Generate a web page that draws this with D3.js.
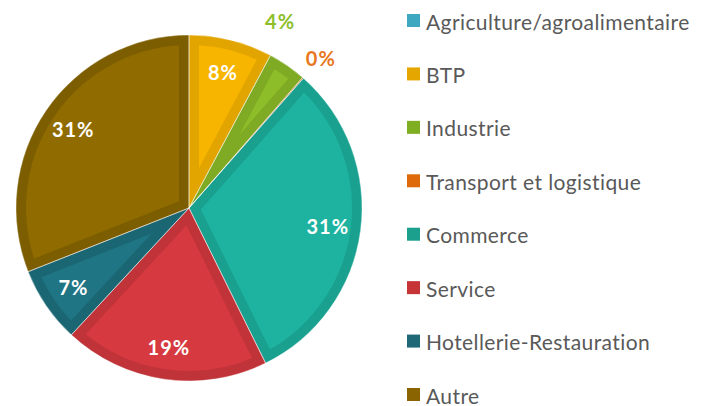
<!DOCTYPE html>
<html>
<head>
<meta charset="utf-8">
<script src="https://cdn.jsdelivr.net/npm/d3@7"></script>
<style>
  body { margin: 0; background: #fff; }
  svg { display: block; }
</style>
</head>
<body>
<svg id="chart" width="712" height="406"></svg>
<script>
// data
var categories = ["Agriculture/agroalimentaire", "BTP", "Industrie", "Transport et logistique",
                  "Commerce", "Service", "Hotellerie-Restauration", "Autre"];
var shares = [0, 7.8, 3.6, 0.1, 31.2, 19.2, 7.1, 31.0];
var shareLabels = ["0%", "8%", "4%", "0%", "31%", "19%", "7%", "31%"];
var sliceColors = ["#3fabc3", "#f7b500", "#8dbe2a", "#e87722", "#1eb3a0", "#d6393f", "#1f7584", "#8f6b00"];
var borderColors = ["#3596ab", "#e2a500", "#7faa23", "#d16a1c", "#19a08f", "#c03338", "#1b6673", "#7c5d00"];
var legendColors = ["#3ea8c0", "#e5a600", "#80ae22", "#de6a0a", "#1aa08d", "#c63438", "#1e6878", "#8a6400"];

var svg = d3.select("#chart");
var cx = 189, cy = 208, R = 173;

var data = categories.map(function(c, i) {
    return {name: c, value: shares[i], label: shareLabels[i], i: i};
});

var pie = d3.pie().sort(null).value(function(d) { return d.value; });
var arc = d3.arc().innerRadius(0).outerRadius(R);
var arcs = pie(data);

var defs = svg.append("defs");
var g = svg.append("g").attr("transform", "translate(" + cx + "," + cy + ")");

arcs.forEach(function(a, k) {
    if (a.data.value <= 0) return;
    defs.append("clipPath").attr("id", "clip" + k)
        .append("path").attr("d", arc(a));
    var sg = g.append("g").attr("clip-path", "url(#clip" + k + ")");
    sg.append("path")
        .attr("d", arc(a))
        .attr("fill", sliceColors[k])
        .attr("stroke", borderColors[k])
        .attr("stroke-width", 20)
        .attr("stroke-linejoin", "miter");
});

// thin light separators
g.selectAll("path.sep").data(arcs.filter(function(a) { return a.data.value > 0; }))
    .enter().append("path").attr("class", "sep")
    .attr("d", arc)
    .attr("fill", "none")
    .attr("stroke", "#ffffff")
    .attr("stroke-opacity", 0.55)
    .attr("stroke-width", 0.8);

// labels: big slices inside, small ones outside
var inner = d3.arc().innerRadius(140).outerRadius(140);
var outsideShift = {2: -0.15}; // nudge Industrie label off Transport's

arcs.forEach(function(a, k) {
    if (k === 0) return;
    var big = a.data.value >= 5;
    var pos;
    if (big) {
        pos = inner.centroid(a);
    } else {
        var mid = (a.startAngle + a.endAngle) / 2 + (outsideShift[k] || 0);
        var rr = 200 + (outsideShift[k] ? 8 : 0);
        pos = [Math.sin(mid) * rr, -Math.cos(mid) * rr];
    }
    g.append("text")
        .attr("x", pos[0]).attr("y", pos[1])
        .attr("text-anchor", "middle")
        .attr("dominant-baseline", "central")
        .style("font-family", "Lato, 'Open Sans', sans-serif")
        .style("font-weight", "bold")
        .style("font-size", "20px")
        .style("letter-spacing", "1px")
        .attr("fill", big ? "#ffffff" : sliceColors[k])
        .text(a.data.label);
});

// legend
var legendY = d3.scalePoint().domain(categories).range([20, 394]);
var lg = svg.append("g");
var item = lg.selectAll("g").data(categories).enter().append("g")
    .attr("transform", function(d) { return "translate(407," + legendY(d) + ")"; });
item.append("rect")
    .attr("x", 0).attr("y", -6).attr("width", 13).attr("height", 13)
    .attr("fill", function(d, i) { return legendColors[i]; });
item.append("text")
    .attr("x", 19).attr("y", 1)
    .attr("dominant-baseline", "central")
    .style("font-family", "Lato, 'Open Sans', sans-serif")
    .style("font-size", "21px")
    .style("letter-spacing", "0.4px")
    .attr("fill", "#595959")
    .text(function(d) { return d; });
</script>
</body>
</html>
